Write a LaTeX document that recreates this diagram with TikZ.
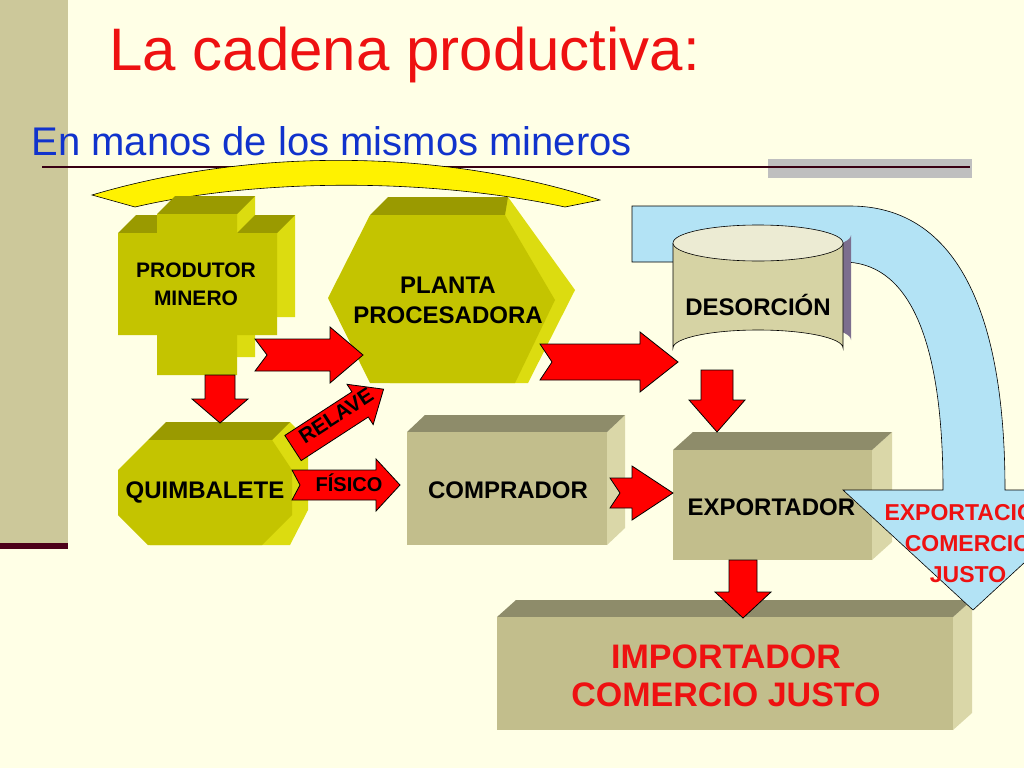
\documentclass[tikz,border=0pt]{standalone}
\usepackage{fontspec}
\setmainfont{Liberation Sans}
\usetikzlibrary{positioning}

\definecolor{bgcol}{HTML}{FFFFE6}
\definecolor{barcol}{HTML}{CCC89A}
\definecolor{olivefront}{HTML}{C4C400}
\definecolor{olivetop}{HTML}{9A9A00}
\definecolor{oliveside}{HTML}{DCDC10}
\definecolor{khakifront}{HTML}{C2BE8C}
\definecolor{khakitop}{HTML}{8E8C6A}
\definecolor{khakiside}{HTML}{DAD7A8}
\definecolor{skyblue}{HTML}{B3E3F5}
\definecolor{titlered}{HTML}{EE1111}
\definecolor{subblue}{HTML}{1133CC}
\definecolor{shadowcol}{HTML}{7C6E8E}

% block arrow: x, y, angle, length, shaft half, head start, head half, notch
\newcommand{\redarrow}[8]{%
  \begin{scope}[shift={(#1,#2)},rotate=#3]
    \filldraw[fill=red,draw=black,line width=0.8pt]
      (0,-#5) -- (#6,-#5) -- (#6,-#7) -- (#4,0) -- (#6,#7) -- (#6,#5) -- (0,#5) -- (#8,0) -- cycle;
  \end{scope}}

\begin{document}
\begin{tikzpicture}[x=1pt,y=-1pt,
    boxtext/.style={font=\bfseries\fontsize{24}{30}\selectfont,align=center,text=black},
    edge/.style={draw=black,line width=0.6pt}]
  \useasboundingbox (0,0) rectangle (1024,768);
  \clip (0,0) rectangle (1024,768);
  \fill[bgcol] (0,0) rectangle (1024,768);

  % left bar and rules
  \fill[barcol] (0,0) rectangle (68,545);
  \fill[black!60!purple] (0,543) rectangle (68,549);
  \fill[black!25] (768,159) rectangle (972,178);
  \draw[black!70!purple,line width=1.5pt] (42,167) -- (970,167);

  % titles
  \node[anchor=west,text=titlered,font=\fontsize{60}{66}\selectfont] (title) at (106,55) {La cadena productiva:};
  \node[anchor=west,text=subblue,font=\fontsize{40}{44}\selectfont] (subtitle) at (28,141) {En manos de los mismos mineros};

  % yellow arc
  \filldraw[fill=yellow,edge]
    (92,195) .. controls (250,148) and (440,148) .. (600,200)
    -- (565,207) .. controls (430,178) and (260,178) .. (135,207) -- cycle;

  % cross (produtor minero)
  \fill[oliveside] (175,196) -- (255,196) -- (255,215) -- (295,215) -- (295,317) -- (255,317)
    -- (255,357) -- (175,357) -- cycle;
  \fill[olivetop] (118,233) -- (136,215) -- (175,215) -- (157,233) -- cycle;
  \fill[olivetop] (237,233) -- (255,215) -- (295,215) -- (277,233) -- cycle;
  \fill[olivetop] (157,214) -- (175,196) -- (255,196) -- (237,214) -- cycle;
  \fill[olivefront] (157,214) -- (237,214) -- (237,233) -- (277,233) -- (277,335) -- (237,335)
    -- (237,375) -- (157,375) -- (157,335) -- (118,335) -- (118,233) -- (157,233) -- cycle;
  \node[boxtext,font=\bfseries\fontsize{21}{28}\selectfont] (produtor) at (196,284) {PRODUTOR\\MINERO};

  % hexagon (planta procesadora)
  \fill[oliveside] (348,272) -- (392,197) -- (508,197) -- (575,290) -- (528,383) -- (390,383) -- cycle;
  \fill[olivetop] (370,215) -- (388,197) -- (508,197) -- (505,215) -- cycle;
  \fill[olivefront] (328,298) -- (370,215) -- (505,215) -- (555,300) -- (515,383) -- (370,383) -- cycle;
  \node[boxtext] (planta) at (448,300) {PLANTA\\PROCESADORA};

  % octagon (quimbalete)
  \fill[oliveside] (166,422) -- (290,422) -- (308,440) -- (308,510) -- (290,545) -- (150,545) -- cycle;
  \fill[olivetop] (148,440) -- (166,422) -- (290,422) -- (272,440) -- cycle;
  \fill[olivefront] (148,440) -- (272,440) -- (292,470) -- (292,515) -- (262,545) -- (148,545)
    -- (118,515) -- (118,470) -- cycle;
  \node[boxtext] (quimbalete) at (205,492) {QUIMBALETE};

  % comprador box
  \fill[khakiside] (607,432) -- (625,415) -- (625,528) -- (607,545) -- cycle;
  \fill[khakitop] (407,432) -- (425,415) -- (625,415) -- (607,432) -- cycle;
  \fill[khakifront] (407,432) rectangle (607,545);
  \node[boxtext] (comprador) at (508,490) {COMPRADOR};

  % exportador box
  \fill[khakiside] (872,450) -- (892,432) -- (892,542) -- (872,560) -- cycle;
  \fill[khakitop] (673,450) -- (693,432) -- (892,432) -- (872,450) -- cycle;
  \fill[khakifront] (673,450) rectangle (872,560);

  % importador box
  \fill[khakiside] (953,617) -- (972,600) -- (972,713) -- (953,730) -- cycle;
  \fill[khakitop] (497,617) -- (516,600) -- (972,600) -- (953,617) -- cycle;
  \fill[khakifront] (497,617) rectangle (953,730);
  \node[boxtext,text=titlered,font=\bfseries\fontsize{34}{38}\selectfont] (importador) at (726,676) {IMPORTADOR\\COMERCIO JUSTO};

  % blue curved arrow
  \filldraw[fill=skyblue,edge]
    (632,206) -- (850,206) .. controls (950,206) and (1005,300) .. (1005,490)
    -- (1103,490) -- (973,610) -- (843,490) -- (943,490)
    .. controls (943,330) and (905,262) .. (843,262) -- (632,262) -- cycle;

  % desorcion cylinder with shadow
  \fill[shadowcol] (681,235) -- (681,340) arc[start angle=180,end angle=360,x radius=85,y radius=18]
    -- (851,235) arc[start angle=0,end angle=180,x radius=85,y radius=18] -- cycle;
  \filldraw[fill=khakiside!85!khakifront,edge] (673,243) -- (673,348)
    arc[start angle=180,end angle=360,x radius=85,y radius=18] -- (843,243);
  \filldraw[fill=khakiside!50!white,edge] (758,243) ellipse[x radius=85,y radius=18];
  \node[boxtext] (desorcion) at (758,305) {DESORCIÓN};

  % red block arrows
  \redarrow{255}{355}{0}{108}{16}{75}{28}{12}
  \redarrow{540}{362}{0}{138}{18}{100}{30}{12}
  \redarrow{220}{375}{-90}{48}{15}{24}{28}{0}
  \redarrow{293}{448}{33}{108}{15}{80}{24}{0}
  \redarrow{292}{485}{0}{108}{15}{84}{26}{8}
  \redarrow{610}{493}{0}{63}{15}{22}{27}{10}
  \redarrow{717}{370}{-90}{62}{16}{30}{28}{0}
  \redarrow{743}{560}{-90}{58}{14}{32}{28}{0}

  \node[boxtext,rotate=33,font=\bfseries\fontsize{21}{24}\selectfont] (relave) at (336,416) {RELAVE};
  \node[boxtext,font=\bfseries\fontsize{20}{24}\selectfont] (fisico) at (349,483) {FÍSICO};

  % texts over the exportador area
  \node[boxtext,anchor=west] (exportador) at (684,507) {EXPORTADOR};
  \node[boxtext,text=titlered,font=\bfseries\fontsize{23}{31}\selectfont] (exportacion) at (968,541)
    {EXPORTACIÓN\\COMERCIO\\JUSTO};
\end{tikzpicture}
\end{document}
